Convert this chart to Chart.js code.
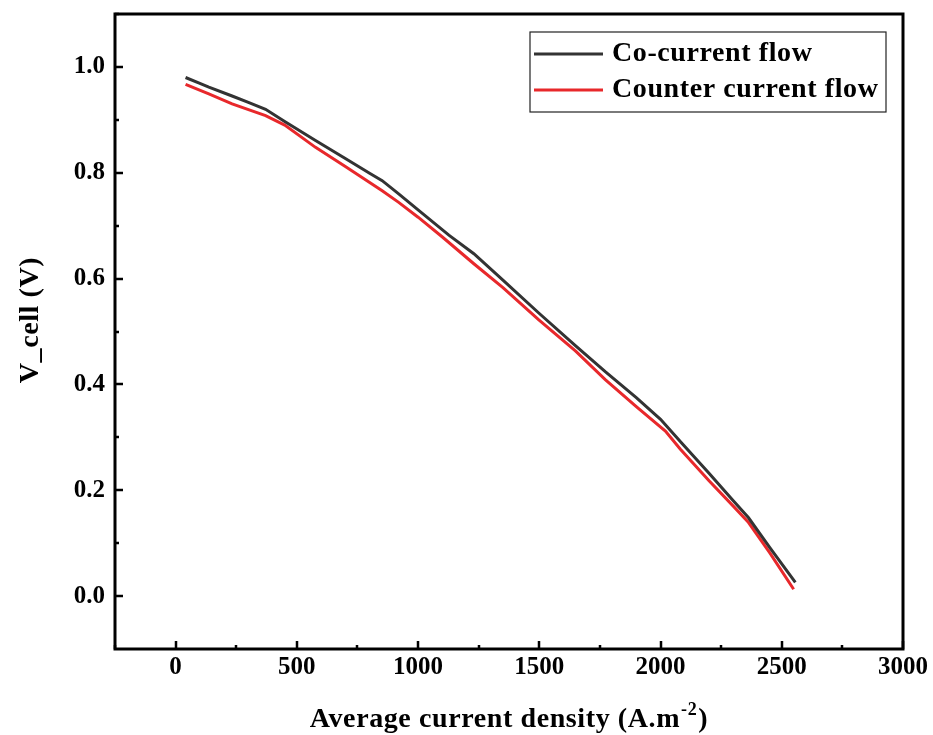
<!DOCTYPE html>
<html>
<head>
<meta charset="utf-8">
<script src="https://cdn.jsdelivr.net/npm/chart.js@4.4.1/dist/chart.umd.min.js"></script>
<style>
  html, body { margin: 0; padding: 0; background: #ffffff; }
  canvas { display: block; }
</style>
</head>
<body>
<canvas id="c" width="933" height="735"></canvas>
<script>
// ---- data ----
const seriesNames = ["Co-current flow", "Counter current flow"];
const coCurrentX = [41, 100, 137, 233, 300, 371, 450, 577, 700, 800, 852, 920, 1000, 1127, 1230, 1350, 1500, 1650, 1772, 1900, 2000, 2088, 2200, 2300, 2363, 2450, 2556];
const coCurrentY = [0.980, 0.969, 0.962, 0.945, 0.933, 0.920, 0.897, 0.861, 0.827, 0.799, 0.785, 0.760, 0.730, 0.682, 0.647, 0.597, 0.534, 0.473, 0.424, 0.375, 0.334, 0.289, 0.232, 0.180, 0.148, 0.092, 0.026];
const counterX = [41, 137, 233, 371, 450, 577, 700, 852, 920, 1000, 1099, 1230, 1350, 1498, 1650, 1772, 1900, 2020, 2081, 2200, 2300, 2363, 2450, 2549];
const counterY = [0.967, 0.949, 0.930, 0.908, 0.890, 0.848, 0.812, 0.766, 0.744, 0.716, 0.679, 0.628, 0.583, 0.522, 0.463, 0.409, 0.358, 0.312, 0.278, 0.218, 0.170, 0.139, 0.082, 0.013];
const xTickValues = [0, 500, 1000, 1500, 2000, 2500, 3000];
const yTickValues = [0.0, 0.2, 0.4, 0.6, 0.8, 1.0];
const xTitle = "Average current density (A.m";
const xTitleSup = "-2";
const xTitleEnd = ")";
const yTitle = "V_cell (V)";

const FONT = "'Liberation Serif', 'Times New Roman', serif";

function toPoints(xs, ys) { return xs.map((x, i) => ({ x: x, y: ys[i] })); }

const framePlugin = {
  id: 'frameTicks',
  afterDraw(chart) {
    const ctx = chart.ctx;
    const a = chart.chartArea;
    const xs = chart.scales.x, ys = chart.scales.y;
    ctx.save();
    ctx.strokeStyle = '#000';
    // ticks (inward)
    ctx.lineWidth = 2.5;
    ctx.beginPath();
    xTickValues.forEach(v => {
      const px = Math.round(xs.getPixelForValue(v));
      ctx.moveTo(px, a.bottom); ctx.lineTo(px, a.bottom - 8);
    });
    for (let i = 0; i < xTickValues.length; i++) {
      const v = xTickValues[i] - 250;
      const px = Math.round(xs.getPixelForValue(v));
      ctx.moveTo(px, a.bottom); ctx.lineTo(px, a.bottom - 4);
    }
    yTickValues.forEach(v => {
      const py = Math.round(ys.getPixelForValue(v));
      ctx.moveTo(a.left, py); ctx.lineTo(a.left + 8, py);
    });
    for (let i = 0; i < yTickValues.length; i++) {
      const v = yTickValues[i] + 0.1;
      const py = Math.round(ys.getPixelForValue(v));
      ctx.moveTo(a.left, py); ctx.lineTo(a.left + 4, py);
    }
    ctx.stroke();
    // frame
    ctx.lineWidth = 3;
    ctx.strokeRect(a.left, a.top, a.right - a.left, a.bottom - a.top);

    // axis titles
    ctx.fillStyle = '#000';
    ctx.textBaseline = 'alphabetic';
    ctx.textAlign = 'left';
    ctx.letterSpacing = '0.6px';
    const f1 = "bold 28px " + FONT, f2 = "bold 18px " + FONT;
    ctx.font = f1; const w1 = ctx.measureText(xTitle).width; const w3 = ctx.measureText(xTitleEnd).width;
    ctx.font = f2; const w2 = ctx.measureText(xTitleSup).width;
    const total = w1 + w2 + w3 + 2;
    const cx = (a.left + a.right) / 2;
    let x0 = cx - total / 2;
    const base = 727;
    ctx.font = f1; ctx.fillText(xTitle, x0, base);
    ctx.font = f2; ctx.fillText(xTitleSup, x0 + w1 + 1, base - 12);
    ctx.font = f1; ctx.fillText(xTitleEnd, x0 + w1 + w2 + 2, base);

    ctx.save();
    ctx.translate(31, 320);
    ctx.rotate(-Math.PI / 2);
    ctx.textAlign = 'center';
    ctx.textBaseline = 'middle';
    ctx.font = "bold 28px " + FONT;
    ctx.fillText(yTitle, 0, 0);
    ctx.restore();

    // legend
    const bx = 530, by = 32, bw = 356, bh = 80;
    ctx.lineWidth = 1.2;
    ctx.strokeStyle = '#222';
    ctx.strokeRect(bx, by, bw, bh);
    const rows = [54, 90];
    chart.data.datasets.forEach((ds, i) => {
      const ry = rows[i];
      ctx.strokeStyle = ds.borderColor;
      ctx.lineWidth = 3;
      ctx.beginPath();
      ctx.moveTo(bx + 4, ry); ctx.lineTo(bx + 73, ry);
      ctx.stroke();
      ctx.fillStyle = '#000';
      ctx.textAlign = 'left';
      ctx.textBaseline = 'middle';
      ctx.font = "bold 28px " + FONT;
      ctx.fillText(ds.label, bx + 82, ry);
    });
    ctx.restore();
  }
};

new Chart(document.getElementById('c'), {
  type: 'scatter',
  data: {
    datasets: [
      { label: seriesNames[0], data: toPoints(coCurrentX, coCurrentY), showLine: true, borderColor: '#333333', backgroundColor: '#333333', borderWidth: 3, pointRadius: 0, tension: 0 },
      { label: seriesNames[1], data: toPoints(counterX, counterY), showLine: true, borderColor: '#e8282b', backgroundColor: '#e8282b', borderWidth: 3, pointRadius: 0, tension: 0 }
    ]
  },
  options: {
    responsive: false,
    animation: false,
    devicePixelRatio: 1,
    layout: { padding: { top: 14, right: 30, left: 0, bottom: 0 } },
    plugins: { legend: { display: false }, tooltip: { enabled: false } },
    scales: {
      x: {
        type: 'linear', min: -250, max: 3000,
        afterBuildTicks: s => { s.ticks = xTickValues.map(v => ({ value: v })); },
        afterFit: s => { s.height = 86; s.paddingLeft = 0; s.paddingRight = 0; },
        grid: { display: false, drawTicks: false },
        border: { display: false },
        ticks: { color: '#000', padding: 4, font: { family: FONT, size: 25, weight: 'bold' }, callback: v => String(v), maxRotation: 0, autoSkip: false }
      },
      y: {
        type: 'linear', min: -0.1, max: 1.1,
        afterBuildTicks: s => { s.ticks = yTickValues.map(v => ({ value: v })); },
        afterFit: s => { s.width = 115; s.paddingTop = 0; s.paddingBottom = 0; },
        grid: { display: false, drawTicks: false },
        border: { display: false },
        ticks: { color: '#000', padding: 10, font: { family: FONT, size: 25, weight: 'bold' }, callback: v => Number(v).toFixed(1), autoSkip: false }
      }
    }
  },
  plugins: [framePlugin]
});
</script>
</body>
</html>
